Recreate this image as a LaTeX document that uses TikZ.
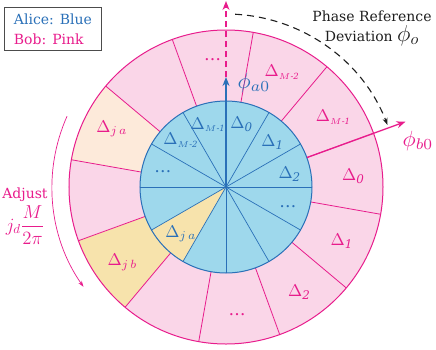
\documentclass[tikz,border=0pt]{standalone}
\usepackage{amsmath}
\usepackage{graphicx}
\usepackage{fontspec}
\setmainfont{DejaVu Serif}
\usetikzlibrary{arrows.meta,positioning}
\definecolor{alice}{RGB}{42,112,184}
\definecolor{alicefill}{RGB}{158,216,236}
\definecolor{bob}{RGB}{232,28,140}
\definecolor{bobfill}{RGB}{250,214,232}
\definecolor{peach}{RGB}{253,234,218}
\definecolor{straw}{RGB}{247,227,172}
\definecolor{ink}{RGB}{30,30,30}
\tikzset{
  >={Stealth[length=9pt,width=7pt]},
  aliceline/.style={draw=alice,line width=0.7pt},
  bobline/.style={draw=bob,line width=0.8pt},
  alicelab/.style={text=alice,inner sep=1pt},
  boblab/.style={text=bob,inner sep=1pt},
  legend/.style={draw=black!70,line width=0.8pt,align=left,inner sep=2pt,
    font=\fontsize{14}{20}\selectfont,minimum width=97pt,minimum height=43pt},
  note/.style={font=\fontsize{14}{20}\selectfont,align=center},
}
% labels of the sectors
\newcommand{\dlt}[1]{$\Delta_{\mathit{#1}}$}
\newcommand{\dlm}[1]{$\Delta_{\scriptscriptstyle M\text{-}\mathit{#1}}$}
\newcommand{\dlj}[1]{$\Delta_{j\,#1}$}

\begin{document}
\begin{tikzpicture}[x=1pt,y=1pt]
  \useasboundingbox (-226,-162) rectangle (210,187);
  \coordinate (O) at (0,0);
  % Bob's ring
  \fill[bobfill] (O) circle (157);
  \fill[peach] (O) -- (140:157) arc (140:170:157) -- cycle;
  \fill[straw] (O) -- (200:157) arc (200:230:157) -- cycle;
  \foreach \a in {20,50,...,350} \draw[bobline] (\a:86) -- (\a:157);
  \draw[bobline,line width=1pt] (O) circle (157);
  % Alice's disk
  \fill[alicefill] (O) circle (86);
  \fill[straw] (O) -- (210:86) arc (210:240:86) -- cycle;
  \foreach \a in {0,30,...,330} \draw[aliceline] (O) -- (\a:86);
  \draw[aliceline,line width=1pt] (O) circle (86);
  % labels inside
  \foreach \a/\t [count=\i] in {76/{\dlt{0}},44/{\dlt{1}},11/{\dlt{2}},-18/{\dots},
      106/{\dlm{1}},134/{\dlm{2}},166/{\dots},226/{\dlj{a}}}
    \node[alicelab] (a\i) at (\a:65) {\scalebox{1.7}{\t}};
  \foreach \a/\t [count=\i] in {5/{\dlt{0}},-25/{\dlt{1}},-55/{\dlt{2}},-85/{\dots},
      33/{\dlm{1}},64/{\dlm{2}},96/{\dots},153/{\dlj{a}},216/{\dlj{b}}}
    \node[boblab] (b\i) at (\a:128) {\scalebox{1.7}{\t}};
  % reference axes
  \coordinate (A0) at (90:110);
  \coordinate (P0) at (90:186);
  \coordinate (B1) at (20:86);
  \coordinate (B0) at (20:191);
  \draw[->,alice,line width=1.8pt] (O) -- (A0);
  \draw[->,bob,line width=1.3pt,dash pattern=on 6pt off 4pt] (A0) -- (P0);
  \draw[->,bob,line width=1.3pt] (B1) -- (B0);
  \node[alicelab] (pa) at (28,104) {\scalebox{2.2}{$\phi_{a0}$}};
  \node[boblab] (pb) at (192,46) {\scalebox{2.2}{$\phi_{b0}$}};
  % deviation
  \draw[->,>={Stealth[length=7pt,width=5pt]},ink,line width=1.1pt,dash pattern=on 7pt off 5pt]
    (87:173) arc (87:21:173);
  \node[note,text=ink] (dev) at (146,159) {Phase Reference\\Deviation \scalebox{1.6}{$\phi_o$}};
  % adjust
  \draw[->,>={Stealth[length=6pt,width=4pt]},bob,line width=0.7pt] (156:174) arc (156:215:174);
  \node[note,text=bob,align=center] (adj) at (-201,-29)
    {Adjust\\[3pt]\scalebox{1.3}{$j_d\dfrac{M}{2\pi}$}};
  % legend
  \node[legend,anchor=north west] (key) at (-222,180)
    {\textcolor{alice}{Alice: Blue}\\\textcolor{bob}{Bob: Pink}};
\end{tikzpicture}
\end{document}
